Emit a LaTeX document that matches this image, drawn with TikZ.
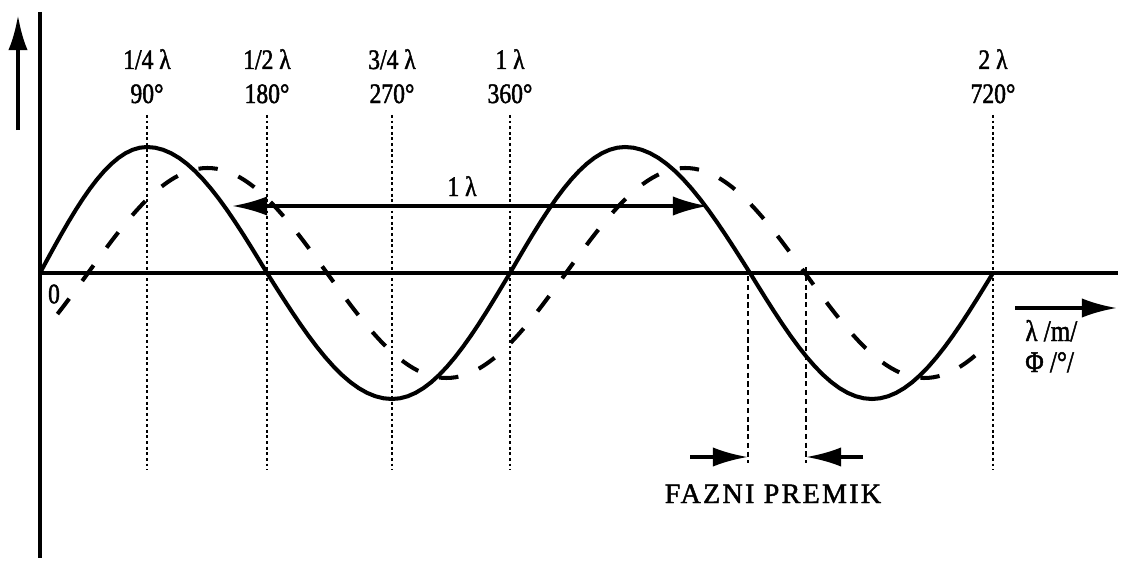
\documentclass[tikz,border=0pt]{standalone}
\usepackage{fontspec}
\setmainfont{Liberation Serif}[FakeStretch=0.84, FakeBold=1.6]
\newfontfamily\spacedfont{Liberation Serif}[LetterSpace=8, FakeBold=1.6]
\usetikzlibrary{arrows.meta}
\tikzset{
  axis/.style={line width=2.4pt},
  wave/.style={line width=2.3pt, line cap=round},
  shifted/.style={line width=2.3pt, dash pattern=on 11pt off 12.5pt},
  guide/.style={line width=0.8pt, dash pattern=on 1.6pt off 1.6pt},
  arr/.style={line width=2pt, -{Latex[length=20pt,width=11pt]}},
  dbl/.style={line width=2pt, {Latex[length=20pt,width=11pt]}-{Latex[length=20pt,width=11pt]}},
  lbl/.style={font=\fontsize{16}{18}\selectfont, inner sep=0pt, anchor=base},
}
\begin{document}
\begin{tikzpicture}[x=0.02cm,y=0.02cm]
\useasboundingbox (-40,-299) rectangle (1094,273);

% ===== Axes =====
\coordinate (O) at (0,0);
\coordinate (ytop) at (0,261);
\coordinate (ybot) at (0,-285);
\coordinate (xend) at (1078,0);
\draw[axis] (ytop) -- (ybot);
\draw[axis] (O) -- (xend);
\coordinate (upa) at (-22,143);
\coordinate (upb) at (-22,258);
\draw[arr, line width=2.4pt] (upa) -- (upb);
\node[lbl, anchor=center] (zero) at (14,-21) {0};

% ===== Guide lines and quarter labels =====
\foreach \x in {107,227,352,470,953} {
  \draw[guide] (\x,158) -- (\x,-197);
}
\node[lbl] (q1) at (107,204) {1/4 λ};
\node[lbl] (d1) at (107,170) {90°};
\node[lbl] (q2) at (227,204) {1/2 λ};
\node[lbl] (d2) at (227,170) {180°};
\node[lbl] (q3) at (352,204) {3/4 λ};
\node[lbl] (d3) at (352,170) {270°};
\node[lbl] (q4) at (470,204) {1 λ};
\node[lbl] (d4) at (470,170) {360°};
\node[lbl] (q8) at (953,204) {2 λ};
\node[lbl] (d8) at (953,170) {720°};

% ===== Waves =====
\foreach \xa/\xb [count=\k from 0, evaluate=\k as \ta using 90*\k,
    evaluate=\k as \tb using 90*\k+90] in
    {0/107,107/227,227/352,352/470,470/585,585/710,710/832,832/953} {
  \draw[wave] plot[domain=\ta:\tb, samples=16]
    ({\xa+(\xb-\xa)*(\x-\ta)/90},{126*sin(\x)});
}
\draw[shifted] plot[domain=-23:679, samples=200] ({48+\x/180*239},{105*sin(\x)});

% ===== Wavelength =====
\coordinate (La) at (192,67);
\coordinate (Lb) at (668,67);
\draw[dbl] (La) -- (Lb);
\node[lbl] (lam) at (422,77) {1 λ};

% ===== Phase shift =====
\draw[guide, dash pattern=on 3pt off 2pt] (708,-3) -- (708,-190);
\draw[guide, dash pattern=on 3pt off 2pt] (766,6) -- (766,-190);
\coordinate (pa) at (650,-184);
\coordinate (pb) at (708,-184);
\coordinate (pc) at (823,-184);
\coordinate (pd) at (766,-184);
\draw[arr] (pa) -- (pb);
\draw[arr] (pc) -- (pd);
\node[lbl, font=\spacedfont\fontsize{16}{18}\selectfont] (shift) at (733,-230) {FAZNI PREMIK};

% ===== Units =====
\coordinate (ra) at (975,-35);
\coordinate (rb) at (1077,-35);
\draw[arr] (ra) -- (rb);
\node[lbl, anchor=base west, font=\fontsize{17}{19}\selectfont] (unitl) at (985,-68) {λ /m/};
\node[lbl, anchor=base west, font=\fontsize{17}{19}\selectfont] (unitp) at (985,-99) {Φ /°/};

\end{tikzpicture}
\end{document}
